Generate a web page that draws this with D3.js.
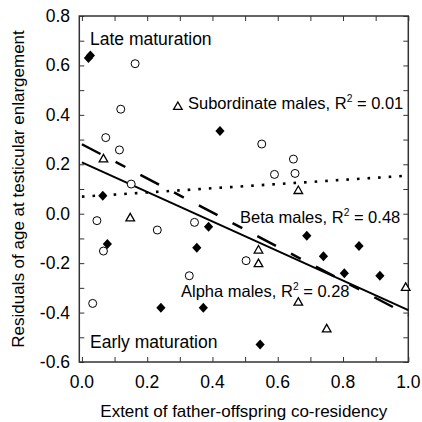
<!DOCTYPE html>
<html>
<head>
<meta charset="utf-8">
<script src="https://cdn.jsdelivr.net/npm/d3@7"></script>
<style>
  body { margin: 0; background: #fff; }
  svg { display: block; font-family: "Liberation Sans", Arial, Helvetica, sans-serif; }
</style>
</head>
<body>
<svg id="chart" width="422" height="422"></svg>
<script>
// alpha males (filled diamonds)
var alphaPts = [[0.020, 0.630], [0.026, 0.640], [0.423, 0.335], [0.064, 0.073], [0.388, -0.053],
    [0.078, -0.123], [0.352, -0.138], [0.689, -0.089], [0.849, -0.131], [0.740, -0.172],
    [0.804, -0.241], [0.913, -0.251], [0.546, -0.529], [0.242, -0.380], [0.372, -0.380]];
// beta males (open circles)
var betaPts = [[0.163, 0.607], [0.119, 0.423], [0.073, 0.308], [0.115, 0.258], [0.151, 0.120],
    [0.046, -0.028], [0.231, -0.066], [0.345, -0.035], [0.066, -0.151], [0.503, -0.190],
    [0.551, 0.282], [0.648, 0.221], [0.590, 0.159], [0.653, 0.163], [0.329, -0.251], [0.033, -0.363]];
// subordinate males (open triangles)
var subPts = [[0.294, 0.436], [0.066, 0.224], [0.148, -0.015], [0.663, 0.096], [0.541, -0.145],
    [0.541, -0.200], [0.992, -0.296], [0.663, -0.356], [0.750, -0.464]];

// regression lines, end points
var alphaFit = [[0, 0.208], [1, -0.390]];
var betaFit = [[0, 0.281], [1, -0.410]];
var subFit = [[0, 0.069], [1, 0.154]];

var xTickLabels = [0.0, 0.2, 0.4, 0.6, 0.8, 1.0];
var yTickLabels = [-0.6, -0.4, -0.2, 0.0, 0.2, 0.4, 0.6, 0.8];

var svg = d3.select("#chart");
var x = d3.scaleLinear().domain([-0.008, 1.0]).range([79.3, 408.3]);
var y = d3.scaleLinear().domain([-0.6, 0.8]).range([362, 16]);

var minorX = d3.range(0, 1.0001, 0.1);
var minorY = d3.range(-0.6, 0.8001, 0.1);
var tk = 5;

// axes, ticks pointing inward on all four sides
var bottom = svg.append("g").attr("transform", "translate(0," + y(-0.6) + ")")
    .call(d3.axisBottom(x).tickValues(minorX).tickSize(-tk).tickFormat(""));
var top_ = svg.append("g").attr("transform", "translate(0," + y(0.8) + ")")
    .call(d3.axisTop(x).tickValues(minorX).tickSize(-tk).tickFormat(""));
var left = svg.append("g").attr("transform", "translate(" + x(-0.008) + ",0)")
    .call(d3.axisLeft(y).tickValues(minorY).tickSize(-tk).tickFormat(""));
var right = svg.append("g").attr("transform", "translate(" + x(1.0) + ",0)")
    .call(d3.axisRight(y).tickValues(minorY).tickSize(-tk).tickFormat(""));
[bottom, top_, left, right].forEach(function (g) {
    g.select(".domain").remove();
    g.selectAll("line").attr("stroke", "#333").attr("stroke-width", 1);
});

svg.append("rect")
    .attr("x", x(-0.008)).attr("y", y(0.8))
    .attr("width", x(1.0) - x(-0.008)).attr("height", y(-0.6) - y(0.8))
    .attr("fill", "none").attr("stroke", "#333").attr("stroke-width", 1.5);

// tick labels
svg.selectAll(".xl").data(xTickLabels).enter().append("text")
    .attr("x", function (d) { return x(d); }).attr("y", 388)
    .attr("text-anchor", "middle").attr("font-size", 17.5)
    .text(function (d) { return d.toFixed(1); });
svg.selectAll(".yl").data(yTickLabels).enter().append("text")
    .attr("x", 70).attr("y", function (d) { return y(d) + 6; })
    .attr("text-anchor", "end").attr("font-size", 17.5)
    .text(function (d) { return d.toFixed(1); });

// axis titles
svg.append("text").attr("x", (x(-0.008) + x(1.0)) / 2).attr("y", 417)
    .attr("text-anchor", "middle").attr("font-size", 17)
    .text("Extent of father-offspring co-residency");
svg.append("text")
    .attr("transform", "translate(24," + (y(0.8) + y(-0.6)) / 2 + ") rotate(-90)")
    .attr("text-anchor", "middle").attr("font-size", 17)
    .text("Residuals of age at testicular enlargement");

// regression lines
var line = d3.line().x(function (d) { return x(d[0]); }).y(function (d) { return y(d[1]); });
svg.append("path").attr("d", line(subFit)).attr("fill", "none")
    .attr("stroke", "#000").attr("stroke-width", 2.6).attr("stroke-dasharray", "2.6,8");
svg.append("path").attr("d", line(betaFit)).attr("fill", "none")
    .attr("stroke", "#000").attr("stroke-width", 2.5).attr("stroke-dasharray", "21,17,11,17");
svg.append("path").attr("d", line(alphaFit)).attr("fill", "none")
    .attr("stroke", "#000").attr("stroke-width", 2);

// points
svg.selectAll(".beta").data(betaPts).enter().append("circle")
    .attr("cx", function (d) { return x(d[0]); }).attr("cy", function (d) { return y(d[1]); })
    .attr("r", 4).attr("fill", "#fff").attr("stroke", "#000").attr("stroke-width", 1);
svg.selectAll(".sub").data(subPts).enter().append("path")
    .attr("transform", function (d) { return "translate(" + x(d[0]) + "," + y(d[1]) + ")"; })
    .attr("d", "M0,-4L4.3,3.5L-4.3,3.5Z")
    .attr("fill", "#fff").attr("stroke", "#000").attr("stroke-width", 1.3);
svg.selectAll(".alpha").data(alphaPts).enter().append("path")
    .attr("transform", function (d) { return "translate(" + x(d[0]) + "," + y(d[1]) + ")"; })
    .attr("d", "M0,-5L4.6,0L0,5L-4.6,0Z")
    .attr("fill", "#000");

// annotations
function label(tx, ty, fs, pre, post) {
    var t = svg.append("text").attr("x", tx).attr("y", ty).attr("font-size", fs);
    t.append("tspan").text(pre);
    if (post !== undefined) {
        t.append("tspan").attr("font-size", fs * 0.62).attr("dy", -fs * 0.4).text("2");
        t.append("tspan").attr("dy", fs * 0.4).text(post);
    }
}
label(90, 45, 17.5, "Late maturation");
label(90, 348, 17.5, "Early maturation");
label(188, 109, 16.5, "Subordinate males, R", " = 0.01");
label(240, 223, 16.5, "Beta males, R", " = 0.48");
label(181, 297, 16.5, "Alpha males, R", " = 0.28");
</script>
</body>
</html>
